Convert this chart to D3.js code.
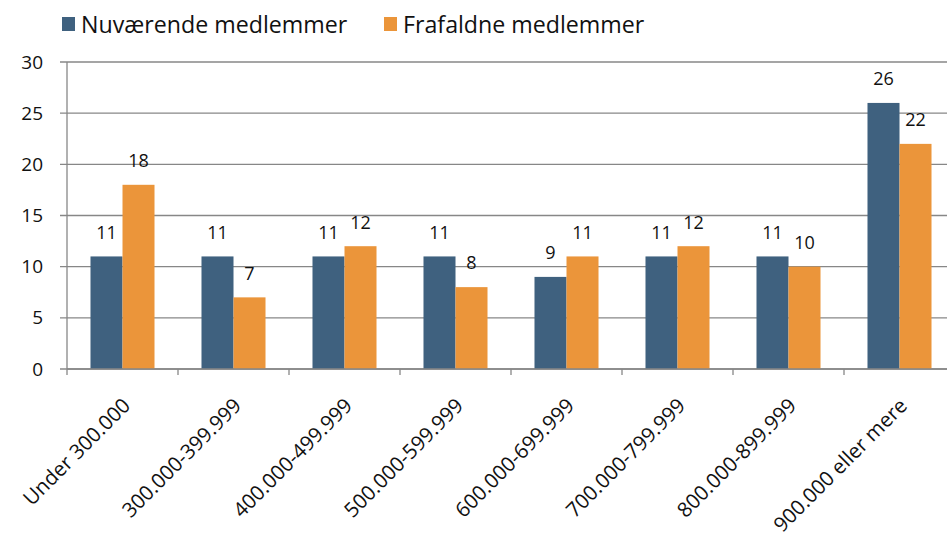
<!DOCTYPE html>
<html><head><meta charset="utf-8">
<script src="https://cdn.jsdelivr.net/npm/d3@7"></script>
<style>body{margin:0;background:#fff}svg{display:block;font-family:"Open Sans",Lato,sans-serif}</style>
</head><body><svg id="c" width="947" height="543"></svg>
<script>
const categories = ["Under 300.000","300.000-399.999","400.000-499.999","500.000-599.999","600.000-699.999","700.000-799.999","800.000-899.999","900.000 eller mere"];
const seriesNames = ["Nuværende medlemmer","Frafaldne medlemmer"];
const nuvaerende = [11,11,11,11,9,11,11,26];
const frafaldne = [18,7,12,8,11,12,10,22];
const yTicks = [0,5,10,15,20,25,30];
const colors = ["#3F617F","#EB953A"];

const svg = d3.select("#c");
const x0 = d3.scaleBand().domain(categories).range([67,955]).padding(0);
const x1 = d3.scaleBand().domain(seriesNames).range([0,x0.bandwidth()]).paddingInner(0).paddingOuter(0.734);
const y = d3.scaleLinear().domain([0,30]).range([369,62]);
const gray = "#878787";

// gridlines
svg.append("g").selectAll("line").data(yTicks).join("line")
  .attr("x1",60).attr("x2",947).attr("y1",d=>y(d)).attr("y2",d=>y(d))
  .attr("stroke",gray).attr("stroke-width",1.3);
// y labels
svg.append("g").selectAll("text").data(yTicks).join("text")
  .attr("x",43).attr("y",d=>y(d)).attr("dy","0.35em").attr("text-anchor","end")
  .attr("font-size",19).attr("fill","#111").text(d=>d);

const data = categories.map((c,i)=>({c, vals:[nuvaerende[i],frafaldne[i]]}));
const g = svg.append("g").selectAll("g").data(data).join("g").attr("transform",d=>`translate(${x0(d.c)},0)`);
g.selectAll("rect").data(d=>d.vals.map((v,j)=>({v,s:seriesNames[j],j}))).join("rect")
  .attr("x",d=>x1(d.s)).attr("width",x1.bandwidth()).attr("y",d=>y(d.v)).attr("height",d=>y(0)-y(d.v))
  .attr("fill",d=>colors[d.j]);
g.selectAll("text").data(d=>d.vals.map((v,j)=>({v,s:seriesNames[j],j}))).join("text")
  .attr("x",d=>x1(d.s)+x1.bandwidth()/2).attr("y",d=>y(d.v)-24).attr("dy","0.35em")
  .attr("text-anchor","middle").attr("font-size",18).attr("fill","#111").text(d=>d.v);

// y axis line
svg.append("line").attr("x1",67).attr("x2",67).attr("y1",y(30)).attr("y2",y(0)).attr("stroke",gray).attr("stroke-width",1.3);
// x axis
svg.append("line").attr("x1",67).attr("x2",947).attr("y1",y(0)).attr("y2",y(0)).attr("stroke",gray).attr("stroke-width",1.3);
const bounds = categories.map(c=>x0(c));
svg.append("g").selectAll("line").data(bounds).join("line")
  .attr("x1",d=>d).attr("x2",d=>d).attr("y1",y(0)).attr("y2",y(0)+6).attr("stroke",gray).attr("stroke-width",1.3);
// x labels
svg.append("g").selectAll("text").data(categories).join("text")
  .attr("transform",c=>`translate(${x0(c)+x0.bandwidth()/2+9},407) rotate(-45)`)
  .attr("text-anchor","end").attr("font-size",20.5).attr("fill","#111").text(c=>c);

// legend
const lg = svg.append("g");
const lx = [62,384];
seriesNames.forEach((s,i)=>{
  lg.append("rect").attr("x",lx[i]).attr("y",17).attr("width",13).attr("height",14).attr("fill",colors[i]);
  lg.append("text").attr("x",lx[i]+19).attr("y",33).attr("font-size",23.2).attr("fill","#111").text(s);
});
</script></body></html>
